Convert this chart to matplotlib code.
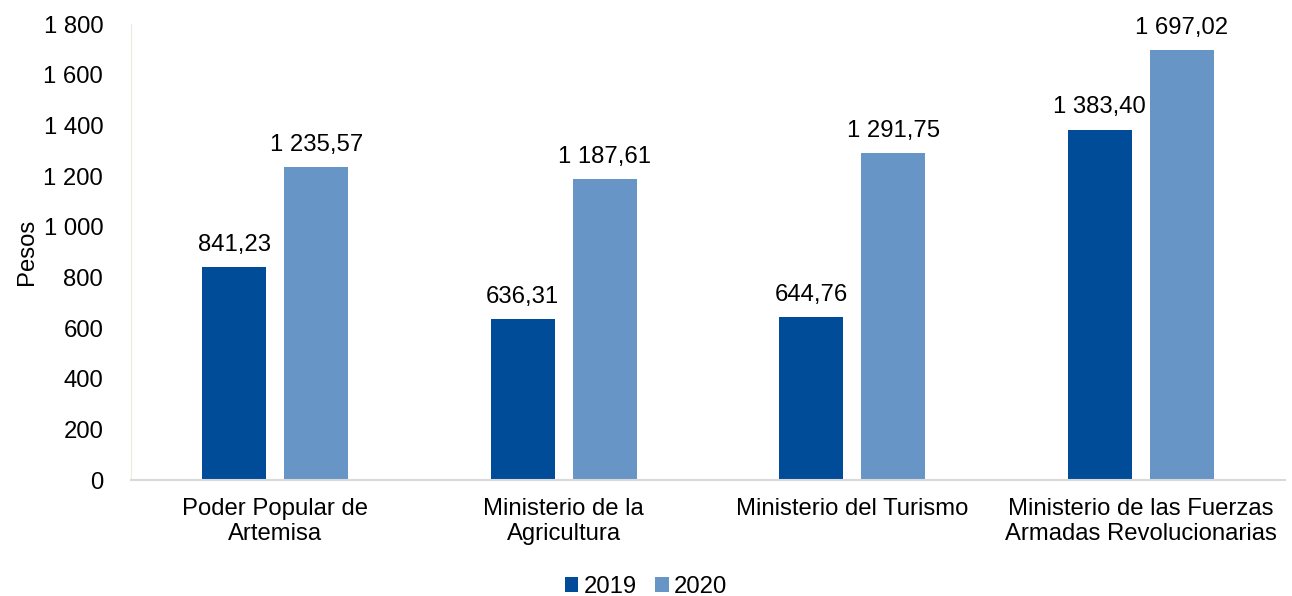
import numpy as np
import matplotlib.pyplot as plt

plt.rcParams['font.family'] = ['Liberation Sans', 'DejaVu Sans']

categories = ["Poder Popular de\nArtemisa", "Ministerio de la\nAgricultura",
              "Ministerio del Turismo", "Ministerio de las Fuerzas\nArmadas Revolucionarias"]
v2019 = [841.23, 636.31, 644.76, 1383.40]
v2020 = [1235.57, 1187.61, 1291.75, 1697.02]
yticks = [0, 200, 400, 600, 800, 1000, 1200, 1400, 1600, 1800]


def fmt(v, dec=2):
    s = f"{v:,.{dec}f}"
    return s.replace(",", " ").replace(".", ",")


fs = 17.2
fig = plt.figure(figsize=(12.92, 5.96), dpi=100)
ax = fig.add_axes([0.1014, 0.1946, 0.8932, 0.7651])

x = np.arange(len(categories))
w = 0.222
off = 0.142
b1 = ax.bar(x - off, v2019, w, color="#004C99", label="2019")
b2 = ax.bar(x + off, v2020, w, color="#6795C5", label="2020")

for bars, vals in ((b1, v2019), (b2, v2020)):
    for b, v in zip(bars, vals):
        ax.annotate(fmt(v), (b.get_x() + b.get_width() / 2, v), xytext=(0, 8),
                    textcoords="offset points", ha="center", va="bottom", fontsize=fs)

ax.set_xlim(-0.5, len(categories) - 0.5)
ax.set_ylim(0, 1800)
ax.set_yticks(yticks)
ax.set_yticklabels([fmt(t, 0) for t in yticks], fontsize=fs)
ax.set_xticks(x)
ax.set_xticklabels(categories, fontsize=fs, linespacing=1.2)
ax.tick_params(axis="both", length=0)
ax.tick_params(axis="x", pad=13)
ax.tick_params(axis="y", pad=20)
ax.set_ylabel("Pesos", fontsize=fs, labelpad=4)

for s in ("top", "right"):
    ax.spines[s].set_visible(False)
ax.spines["left"].set_color("#EEEAE0")
ax.spines["bottom"].set_color("#D9D9D9")
ax.spines["bottom"].set_linewidth(1.5)

fig.legend(handles=[b1, b2], loc="center", bbox_to_anchor=(0.5, 9 / 596), ncol=2,
           frameon=False, fontsize=fs, handlelength=0.55, handleheight=0.55,
           handletextpad=0.21, columnspacing=0.8, borderpad=0)

fig.savefig("out.png", dpi=100)
